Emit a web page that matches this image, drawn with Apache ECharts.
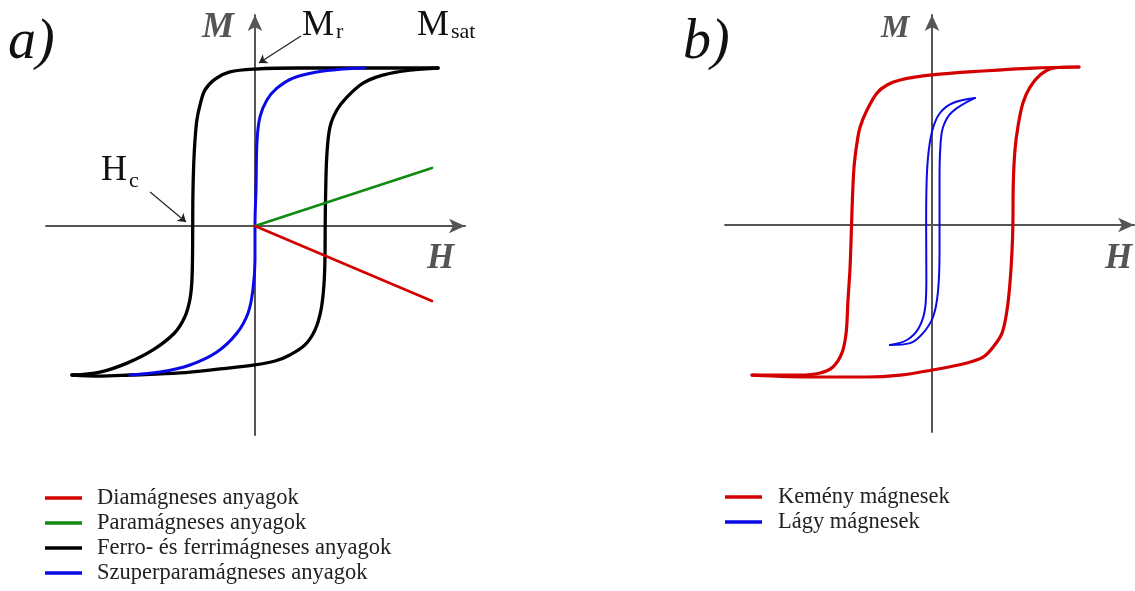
<!DOCTYPE html>
<html>
<head>
<meta charset="utf-8">
<script src="https://cdn.jsdelivr.net/npm/echarts@6/dist/echarts.min.js"></script>
<style>
html,body{margin:0;padding:0;background:#fff;}
#chart{width:1135px;height:591px;}
</style>
</head>
<body>
<div id="chart"></div>
<script>
// ---- Panel a) data (H, M in arbitrary units) ----
const legendA = ['Diamágneses anyagok', 'Paramágneses anyagok', 'Ferro- és ferrimágneses anyagok', 'Szuperparamágneses anyagok'];
const diaLine = [[0, 0], [8.47, -3.59]];
const paraLine = [[0, 0], [8.47, 2.78]];
const ferroDown = [
  [8.76, 7.56], [6.94, 7.56], [4.55, 7.56], [2.15, 7.56], [0, 7.51], [-1.20, 7.37], [-1.91, 7.03],
  [-2.39, 6.51], [-2.63, 5.79], [-2.78, 5.07], [-2.87, 4.11], [-2.93, 3.0], [-2.97, 1.5], [-2.98, 0],
  [-2.99, -1.6], [-3.03, -2.82], [-3.13, -3.6], [-3.37, -4.38], [-3.85, -5.12], [-4.88, -5.93],
  [-6.12, -6.56], [-7.42, -6.99], [-8.76, -7.13]
];
const ferroUp = [
  [-8.76, -7.13], [-7.42, -7.18], [-5.98, -7.13], [-3.59, -7.03], [-1.67, -6.84], [0, -6.65], [0.96, -6.46],
  [1.67, -6.17], [2.39, -5.69], [2.87, -4.98], [3.16, -4.02], [3.30, -2.82], [3.35, -1.5], [3.36, 0],
  [3.38, 1.5], [3.44, 3.4], [3.59, 4.74], [3.92, 5.55], [4.40, 6.17], [5.17, 6.84], [6.12, 7.22],
  [7.42, 7.46], [8.76, 7.56]
];
const superPara = [
  [-5.98, -7.13], [-4.55, -6.99], [-3.11, -6.65], [-1.82, -6.03], [-0.86, -5.12], [-0.33, -4.16],
  [-0.10, -3.06], [0, -1.63], [0, 0], [0.05, 1.8], [0.10, 4.11], [0.24, 5.22], [0.57, 6.03],
  [1.05, 6.60], [1.82, 7.08], [2.97, 7.37], [4.21, 7.51], [5.26, 7.56]
];

// ---- Panel b) data ----
const legendB = ['Kemény mágnesek', 'Lágy mágnesek'];
const hardDown = [
  [7.03, 7.56], [4.83, 7.51], [2.44, 7.37], [0, 7.18], [-1.53, 6.94], [-2.15, 6.70], [-2.63, 6.32],
  [-3.11, 5.50], [-3.44, 4.69], [-3.59, 3.92], [-3.73, 2.78], [-3.81, 1.20], [-3.85, 0], [-3.92, -2.01],
  [-4.02, -3.59], [-4.11, -5.17], [-4.31, -6.12], [-4.74, -6.79], [-5.36, -7.08], [-6.32, -7.18], [-8.61, -7.18]
];
const hardUp = [
  [-8.61, -7.18], [-5.50, -7.27], [-3.11, -7.27], [-1.53, -7.18], [0, -6.94], [1.67, -6.60], [2.44, -6.32],
  [2.92, -5.84], [3.35, -5.17], [3.59, -4.07], [3.73, -2.78], [3.83, -1.20], [3.87, 0], [3.89, 2.01],
  [3.97, 3.59], [4.11, 4.69], [4.35, 5.84], [4.69, 6.60], [5.17, 7.18], [5.79, 7.51], [7.03, 7.56]
];
const softDown = [
  [2.06, 6.08], [1.00, 5.84], [0.38, 5.36], [0.02, 4.55], [-0.17, 3.44], [-0.26, 2.0], [-0.28, 0],
  [-0.27, -2.6], [-0.32, -3.9], [-0.62, -4.9], [-1.20, -5.50], [-2.01, -5.74]
];
const softUp = [
  [-2.01, -5.74], [-1.05, -5.65], [-0.43, -5.17], [0.05, -4.40], [0.28, -3.25], [0.36, -1.3], [0.36, 0],
  [0.36, 2.15], [0.40, 3.73], [0.53, 4.69], [0.96, 5.41], [2.06, 6.08]
];

const SERIF = '"Liberation Serif", "DejaVu Serif", serif';
const AXIS_COLOR = '#555';
const RED = '#d40000', GREEN = '#118a11', BLACK = '#000', BLUE = '#0a0ae8';

function axisX(idx, min, max) {
  return {
    type: 'value', gridIndex: idx, min: min, max: max,
    axisLine: { show: true, onZero: true, symbol: ['none', 'arrow'], symbolSize: [11, 16], lineStyle: { color: AXIS_COLOR, width: 2 } },
    axisTick: { show: false }, axisLabel: { show: false }, splitLine: { show: false }
  };
}
function line(name, data, color, width, xi, extra) {
  return Object.assign({
    name: name, type: 'line', data: data, xAxisIndex: xi, yAxisIndex: xi,
    showSymbol: false, symbol: 'none', smooth: 0.35, color: color,
    lineStyle: { color: color, width: width, cap: 'round', join: 'round' },
    silent: true, animation: false
  }, extra || {});
}
function txt(text, x, y, font, fill) {
  return {
    type: 'text', left: x, top: y,
    style: { text: text, font: font, fill: fill || '#111' }
  };
}

const option = {
  backgroundColor: '#ffffff',
  animation: false,
  grid: [
    { left: 46, top: 14.9, width: 419.0, height: 420.1 },
    { left: 725.1, top: 14.96, width: 409.0, height: 417.0 }
  ],
  xAxis: [axisX(0, -10, 10.05), axisX(1, -9.9, 9.67)],
  yAxis: [axisX(0, -10, 10.1), axisX(1, -9.9, 10.05)],
  legend: [
    {
      data: legendA, orient: 'vertical', left: 45, top: 485.5, height: 105, padding: 0, icon: 'rect',
      itemWidth: 37, itemHeight: 3.5, itemGap: 0, selectedMode: false,
      textStyle: { fontFamily: SERIF, fontSize: 22.5, color: '#222', lineHeight: 25, padding: [0, 0, 0, 10] }
    },
    {
      data: legendB, orient: 'vertical', left: 725, top: 484.5, height: 60, padding: 0, icon: 'rect',
      itemWidth: 37, itemHeight: 3.5, itemGap: 0, selectedMode: false,
      textStyle: { fontFamily: SERIF, fontSize: 22.5, color: '#222', lineHeight: 25, padding: [0, 0, 0, 11] }
    }
  ],
  series: [
    line(legendA[2], ferroDown, BLACK, 3.3, 0, {
      markLine: {
        silent: true, symbol: ['none', 'arrow'], symbolSize: 8,
        lineStyle: { color: '#222', width: 1.2, type: 'solid' }, label: { show: false },
        data: [
          [{ coord: [2.2, 9.09] }, { coord: [0.19, 7.8] }],
          [{ coord: [-5.02, 1.63] }, { coord: [-3.3, 0.19] }]
        ]
      }
    }),
    line(legendA[2], ferroUp, BLACK, 3.3, 0),
    line(legendA[3], superPara, BLUE, 3, 0),
    line(legendA[1], paraLine, GREEN, 2.6, 0, { smooth: false }),
    line(legendA[0], diaLine, RED, 2.6, 0, { smooth: false }),
    line(legendB[0], hardDown, RED, 3.2, 1),
    line(legendB[0], hardUp, RED, 3.2, 1),
    line(legendB[1], softDown, BLUE, 2, 1),
    line(legendB[1], softUp, BLUE, 2, 1)
  ],
  graphic: [
    txt('a)', 8, 15, 'italic 56px ' + SERIF),
    txt('b)', 683, 15, 'italic 56px ' + SERIF),
    txt('M', 202, 10, 'italic bold 36px ' + SERIF, AXIS_COLOR),
    txt('M', 881, 13, 'italic bold 32px ' + SERIF, AXIS_COLOR),
    txt('H', 427, 241, 'italic bold 35px ' + SERIF, AXIS_COLOR),
    txt('H', 1105, 241, 'italic bold 35px ' + SERIF, AXIS_COLOR),
    txt('M', 302, 8, '36px ' + SERIF),
    txt('r', 336, 21, '22px ' + SERIF),
    txt('M', 417, 8, '36px ' + SERIF),
    txt('sat', 451, 21, '22px ' + SERIF),
    txt('H', 101, 153, '36px ' + SERIF),
    txt('c', 129, 170, '22px ' + SERIF)
  ]
};

const chart = echarts.init(document.getElementById('chart'), null, { renderer: 'canvas' });
chart.setOption(option);
</script>
</body>
</html>
